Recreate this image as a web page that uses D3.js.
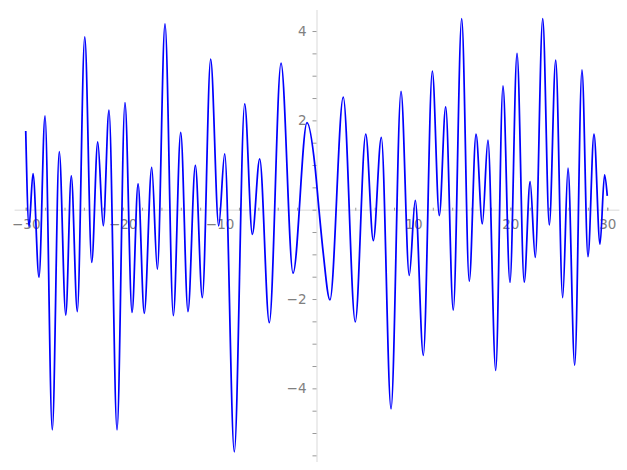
<!DOCTYPE html>
<html>
<head>
<meta charset="utf-8">
<script src="https://cdn.jsdelivr.net/npm/d3@7"></script>
<style>
  html, body { margin: 0; padding: 0; background: #fff; }
  svg { display: block; }
  .tick text { font-family: "DejaVu Sans", sans-serif; font-size: 13.5px; fill: #808080; }
</style>
</head>
<body>
<svg id="chart" width="627" height="470"></svg>
<script>
// Curve samples (turning points and a few shoulder points)
const xValues = [
  -30, -29.66, -29.25, -28.63, -28.01, -27.26, -26.54, -25.87, -25.30, -24.68,
  -23.91, -23.19, -22.57, -22.00, -21.41, -20.58, -19.76, -19.03, -18.41, -17.77,
  -17.00, -16.42, -15.63, -14.77, -14.01, -13.26, -12.50, -11.78, -10.92, -10.09,
  -9.47, -8.48, -7.41, -6.62, -5.86, -4.87, -3.66, -2.42, -0.98, -0.15,
  0.26, 0.70, 1.39, 2.76, 4.00, 5.08, 5.86, 6.69, 7.69, 8.72,
  9.57, 10.19, 11.02, 11.95, 12.67, 13.33, 14.11, 14.98, 15.76, 16.46,
  17.11, 17.69, 18.49, 19.24, 19.96, 20.69, 21.43, 22.04, 22.57, 23.34,
  24.02, 24.68, 25.40, 25.95, 26.64, 27.39, 28.01, 28.63, 29.25, 29.72, 30
];
const yValues = [
  1.76, -0.38, 0.81, -1.51, 2.10, -4.93, 1.30, -2.36, 0.76, -2.28,
  3.87, -1.18, 1.52, -0.36, 2.23, -4.93, 2.40, -2.30, 0.58, -2.32,
  0.95, -1.33, 4.16, -2.37, 1.73, -2.28, 0.99, -1.97, 3.37, -0.36,
  1.25, -5.42, 2.37, -0.55, 1.14, -2.53, 3.28, -1.42, 1.95, 0.96,
  -0.01, -0.98, -2.02, 2.52, -2.51, 1.69, -0.69, 1.62, -4.46, 2.65,
  -1.47, 0.21, -3.26, 3.10, -0.13, 2.30, -2.25, 4.28, -1.60, 1.69,
  -0.32, 1.56, -3.60, 2.77, -1.63, 3.50, -1.62, 0.63, -1.07, 4.28,
  -0.34, 3.35, -1.97, 0.93, -3.48, 3.13, -1.05, 1.69, -0.77, 0.78, 0.31
];

const xMajorTicks = [-30, -20, -10, 10, 20, 30];
const xMinorTicks = d3.range(-30, 31, 2).filter(v => v !== 0);
const yMajorTicks = [-4, -2, 2, 4];
const yMinorTicks = [-5.5, -5, -4.5, -3.5, -3, -2.5, -1.5, -1, -0.5, 0, 0.5, 1, 1.5, 2.5, 3, 3.5];

const xDomain = [-31.2, 31.2];
const yDomain = [-5.64, 4.48];

const svg = d3.select("#chart");

const x = d3.scaleLinear().domain(xDomain).range([14.1, 618.9]);
const y = d3.scaleLinear().domain(yDomain).range([461.6, 9.6]);

const data = xValues.map((v, i) => ({ x: v, y: yValues[i] }));

// x axis (at y = 0)
const gx = svg.append("g").attr("transform", `translate(0,${y(0)})`);
gx.append("g")
  .call(d3.axisBottom(x).tickValues(xMinorTicks).tickFormat("").tickSizeInner(3).tickSizeOuter(0))
  .call(g => g.select(".domain").attr("stroke", "#e6e6e6").attr("stroke-width", 1.5))
  .call(g => g.selectAll(".tick line").attr("stroke", "#999").attr("transform", "translate(0,-2)"));
gx.append("g")
  .call(d3.axisBottom(x).tickValues(xMajorTicks).tickSizeInner(3).tickPadding(7).tickSizeOuter(0)
        .tickFormat(d => d < 0 ? "\u2212" + Math.abs(d) : String(d)))
  .call(g => g.select(".domain").remove())
  .call(g => g.selectAll(".tick line").attr("stroke", "#999").attr("transform", "translate(0,-2)"));

// y axis (at x = 0)
const gy = svg.append("g").attr("transform", `translate(${x(0)},0)`);
gy.append("g")
  .call(d3.axisLeft(y).tickValues(yMinorTicks).tickFormat("").tickSizeInner(4).tickSizeOuter(0))
  .call(g => g.select(".domain").attr("stroke", "#e6e6e6").attr("stroke-width", 1.5))
  .call(g => g.selectAll(".tick line").attr("stroke", "#999"));
gy.append("g")
  .call(d3.axisLeft(y).tickValues(yMajorTicks).tickSizeInner(4).tickPadding(6).tickSizeOuter(0)
        .tickFormat(d => d < 0 ? "\u2212" + Math.abs(d) : String(d)))
  .call(g => g.select(".domain").remove())
  .call(g => g.selectAll(".tick line").attr("stroke", "#999"));

svg.selectAll(".tick text").attr("fill", "#808080");

// curve
const line = d3.line()
  .x(d => x(d.x))
  .y(d => y(d.y))
  .curve(d3.curveMonotoneX);

svg.append("path")
  .datum(data)
  .attr("fill", "none")
  .attr("stroke", "#0000ff")
  .attr("stroke-width", 1.75)
  .attr("stroke-linejoin", "round")
  .attr("d", line);
</script>
</body>
</html>
